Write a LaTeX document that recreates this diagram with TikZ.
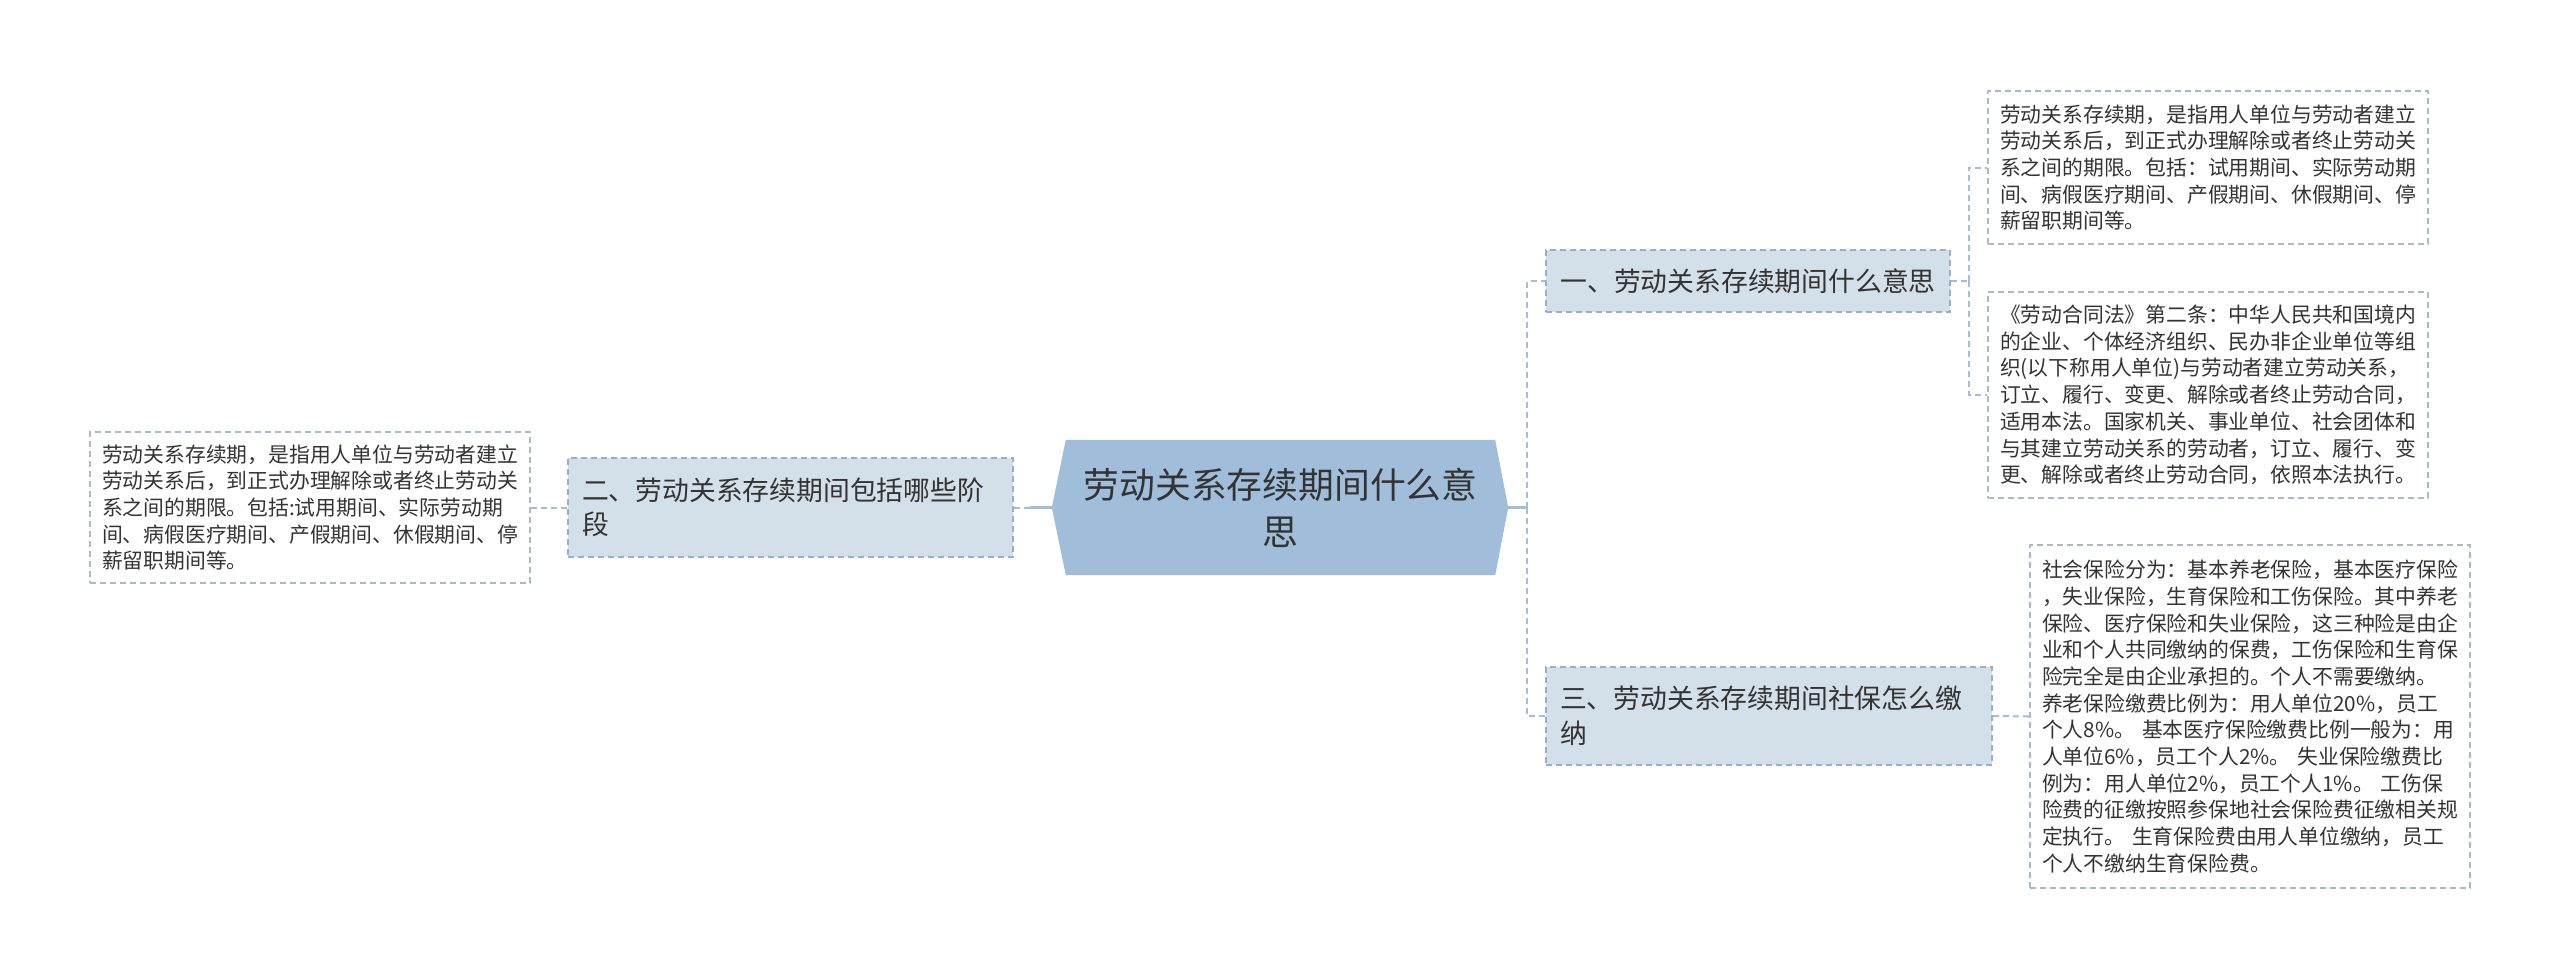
\documentclass[tikz,border=0pt]{standalone}
\usepackage{fontspec}
\setmainfont{Noto Sans CJK SC}
\usetikzlibrary{backgrounds}
\definecolor{txt}{HTML}{333333}
\definecolor{hexfill}{HTML}{A0BDD9}
\definecolor{brfill}{HTML}{D3DFE9}
\definecolor{brline}{HTML}{98AFC5}
\definecolor{leafline}{HTML}{AABACA}
\definecolor{conncol}{HTML}{A3BDD6}
\tikzset{
  mainnode/.style={draw=none, text=txt, align=center, minimum width=429pt, minimum height=135pt, inner sep=0pt,
    font=\fontsize{35.8}{47}\selectfont},
  branch/.style={draw=brline, fill=brfill, dash pattern=on 6pt off 4pt, line width=1.5pt, text=txt, align=left,
    inner xsep=14pt, inner ysep=0pt, font=\fontsize{26.8}{34.5}\selectfont},
  leaf/.style={draw=leafline, fill=white, dash pattern=on 6pt off 4pt, line width=1.5pt, text=txt, align=left,
    text width=416pt, inner xsep=12pt, inner ysep=0pt, minimum width=440pt, font=\fontsize{20.8}{26.7}\selectfont},
  conn/.style={draw=conncol, line width=2pt, dash pattern=on 6pt off 4pt},
  solidconn/.style={draw=conncol, line width=2.5pt}
}
\begin{document}
\begin{tikzpicture}[x=1pt,y=-1pt]
\useasboundingbox (0,0) rectangle (2560,978);
% central node
\node[mainnode] (main) at (1280.5,507.5) {劳动关系存续期间什么意\\思};
\begin{scope}[on background layer]
\fill[hexfill] ([xshift=-14pt]main.west) -- (main.north west) -- (main.north east) -- ([xshift=13pt]main.east) -- (main.south east) -- (main.south west) -- cycle;
\end{scope}
\coordinate (mainR) at ([xshift=13pt]main.east);
\coordinate (mainL) at ([xshift=-14pt]main.west);
% branch nodes
\node[branch, minimum width=404pt, minimum height=62pt] (b1) at (1748,281) {一、劳动关系存续期间什么意思};
\node[branch, text width=417pt, minimum width=445pt, minimum height=99pt] (b2) at (790.5,507.5) {二、劳动关系存续期间包括哪些阶\\段};
\node[branch, text width=418pt, minimum width=446pt, minimum height=98pt] (b3) at (1769,716) {三、劳动关系存续期间社保怎么缴\\纳};
% leaves
\node[leaf, minimum height=153pt] (l1a) at (2208,167.5) {劳动关系存续期，是指用人单位与劳动者建立\\劳动关系后，到正式办理解除或者终止劳动关\\系之间的期限。包括：试用期间、实际劳动期\\间、病假医疗期间、产假期间、休假期间、停\\薪留职期间等。};
\node[leaf, minimum height=206pt] (l1b) at (2208,395) {《劳动合同法》第二条：中华人民共和国境内\\的企业、个体经济组织、民办非企业单位等组\\织(以下称用人单位)与劳动者建立劳动关系，\\订立、履行、变更、解除或者终止劳动合同，\\适用本法。国家机关、事业单位、社会团体和\\与其建立劳动关系的劳动者，订立、履行、变\\更、解除或者终止劳动合同，依照本法执行。};
\node[leaf, minimum height=151pt] (l2) at (310,507.5) {劳动关系存续期，是指用人单位与劳动者建立\\劳动关系后，到正式办理解除或者终止劳动关\\系之间的期限。包括:试用期间、实际劳动期\\间、病假医疗期间、产假期间、休假期间、停\\薪留职期间等。};
\node[leaf, minimum height=343pt] (l3) at (2250,716.5) {社会保险分为：基本养老保险，基本医疗保险\\，失业保险，生育保险和工伤保险。其中养老\\保险、医疗保险和失业保险，这三种险是由企\\业和个人共同缴纳的保费，工伤保险和生育保\\险完全是由企业承担的。个人不需要缴纳。\\养老保险缴费比例为：用人单位20\%，员工\\个人8\%。 基本医疗保险缴费比例一般为：用\\人单位6\%，员工个人2\%。 失业保险缴费比\\例为：用人单位2\%，员工个人1\%。 工伤保\\险费的征缴按照参保地社会保险费征缴相关规\\定执行。 生育保险费由用人单位缴纳，员工\\个人不缴纳生育保险费。};
% connectors
\draw[solidconn] (mainR) -- ++(19,0) coordinate (jR);
\draw[conn] (jR) |- (b1.west);
\draw[conn] (jR) |- (b3.west);
\draw[solidconn] (mainL) -- ++(-22,0) coordinate (jL);
\draw[conn] (jL) -- (b2.east);
\draw[conn] (b2.west) -- (l2.east);
\draw[conn] (b1.east) -- ++(18,0) coordinate (j1);
\draw[conn] (j1) |- (l1a.west);
\draw[conn] (j1) |- (l1b.west);
\draw[conn] (b3.east) -- (l3.west);
\end{tikzpicture}
\end{document}
